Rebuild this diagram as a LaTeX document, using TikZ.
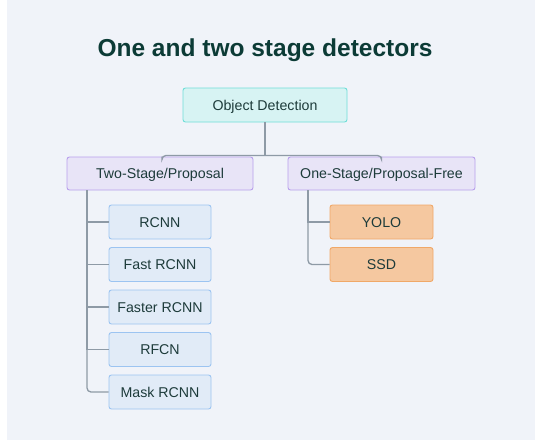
\documentclass[tikz,border=0pt]{standalone}
\usepackage{fontspec}
\setmainfont{Liberation Sans}
\definecolor{bgc}{HTML}{F0F3F9}
\definecolor{txt}{HTML}{1D3B3A}
\definecolor{ttl}{HTML}{0C3B36}
\definecolor{lnc}{HTML}{8E9AA6}
\definecolor{odf}{HTML}{D7F3F3}
\definecolor{odd}{HTML}{6FDED8}
\definecolor{lvf}{HTML}{E8E4F7}
\definecolor{lvd}{HTML}{B89FEC}
\definecolor{blf}{HTML}{E1EBF7}
\definecolor{bld}{HTML}{9CC4F1}
\definecolor{orf}{HTML}{F5C8A0}
\definecolor{ord}{HTML}{F0A868}
\tikzset{
  x=1pt,y=-1pt,
  boxbase/.style={rounded corners=2.5pt,line width=0.9pt,inner sep=0pt,text=txt,font=\fontsize{14.2}{17}\selectfont,text height=10.2pt,text depth=0pt},
  odbox/.style={boxbase,draw=odd,fill=odf,minimum width=164pt,minimum height=34pt},
  catbox/.style={boxbase,draw=lvd,fill=lvf,minimum height=33pt},
  bluebox/.style={boxbase,draw=bld,fill=blf,minimum width=102pt,minimum height=34pt},
  orbox/.style={boxbase,draw=ord,fill=orf,minimum width=103pt,minimum height=34pt},
  conn/.style={draw=lnc,line width=1.3pt,rounded corners=4pt},
}
\begin{document}
\begin{tikzpicture}
\useasboundingbox (0,0) rectangle (535,440);
\fill[white] (0,0) rectangle (535,440);
\fill[bgc] (7,0) rectangle (535,440);
\node[font=\bfseries\fontsize{24.5}{28}\selectfont,text=ttl,text height=17.6pt,text depth=0pt,inner sep=0pt] (title) at (265,48) {One and two stage detectors};
\node[odbox] (od) at (265,105) {Object Detection};
\node[catbox,minimum width=186pt] (two) at (160,173.5) {Two-Stage/Proposal};
\node[catbox,minimum width=187pt] (one) at (381.5,173.5) {One-Stage/Proposal-Free};
\coordinate (tl) at (87,0);
\coordinate (tr) at (308,0);
\node[bluebox] (b1) at (160,222) {RCNN};
\node[bluebox] (b2) at (160,264.5) {Fast RCNN};
\node[bluebox] (b3) at (160,307) {Faster RCNN};
\node[bluebox] (b4) at (160,349.5) {RFCN};
\node[bluebox] (b5) at (160,392) {Mask RCNN};
\node[orbox] (y1) at (381.5,222) {YOLO};
\node[orbox] (y2) at (381.5,264.5) {SSD};
\draw[conn] (od.south) -- ++(0,33) coordinate (mid);
\draw[conn] (two.north -| 162,0) |- (mid) -| (one.north);
\foreach \b in {b1,b2,b3,b4} \draw[conn,rounded corners=0pt] (two.south -| tl) |- (\b.west);
\draw[conn] (two.south -| tl) |- (b5.west);
\foreach \b in {y1} \draw[conn,rounded corners=0pt] (one.south -| tr) |- (\b.west);
\draw[conn] (one.south -| tr) |- (y2.west);
\end{tikzpicture}
\end{document}
